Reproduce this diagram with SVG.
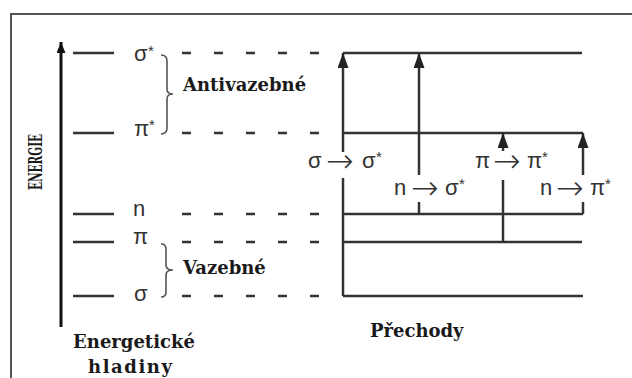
<svg xmlns="http://www.w3.org/2000/svg" width="632" height="378" viewBox="0 0 632 378">
<defs>
<style>
.frame{fill:none;stroke:#555;stroke-width:2}
.lvl{stroke:#333;stroke-width:2.5;fill:none}
.dash{stroke:#333;stroke-width:2.5;stroke-dasharray:9 23;fill:none}
.tr{stroke:#333;stroke-width:2.5;fill:none}
.brace{stroke:#555;stroke-width:1.6;fill:none}
.gk{font-family:"Liberation Sans","Arial",sans-serif;font-size:22px;fill:#333}
.st{font-size:15px}
.ar{font-family:"DejaVu Sans",sans-serif;font-weight:200;font-size:33px}
.lab{font-family:"DejaVu Serif","Liberation Serif",serif;font-weight:bold;font-size:18px;fill:#1a1a1a}
</style>
<marker id="ah" viewBox="0 0 15 11" refX="15" refY="5.5" markerWidth="15" markerHeight="11" markerUnits="userSpaceOnUse" orient="auto">
<path d="M0,0 L15,5.5 L0,11 z" fill="#222"/>
</marker>
<marker id="ahs" viewBox="0 0 11 9" refX="11" refY="4.5" markerWidth="11" markerHeight="9" markerUnits="userSpaceOnUse" orient="auto">
<path d="M0,0 L11,4.5 L0,9 z" fill="#111"/>
</marker>
</defs>
<rect width="632" height="378" fill="#fff"/>
<path class="frame" d="M11,378 L11,14 L632,14"/>

<g id="axis">
<line x1="61" y1="327" x2="61" y2="42" stroke="#111" stroke-width="3" marker-end="url(#ahs)"/>
<text class="lab" transform="translate(42,162) rotate(-90)" text-anchor="middle" font-size="19" textLength="56" lengthAdjust="spacingAndGlyphs">ENERGIE</text>
</g>

<g id="level-sigma-star">
<line class="lvl" x1="73" y1="53" x2="114" y2="53"/>
<text class="gk"><tspan x="134" y="61">σ</tspan><tspan class="st" x="148" y="56">*</tspan></text>
<line class="dash" x1="182" y1="53" x2="322" y2="53"/>
</g>
<g id="level-pi-star">
<line class="lvl" x1="73" y1="133" x2="114" y2="133"/>
<text class="gk"><tspan x="134" y="136">π</tspan><tspan class="st" x="149" y="130">*</tspan></text>
<line class="dash" x1="182" y1="133" x2="322" y2="133"/>
</g>
<g id="level-n">
<line class="lvl" x1="73" y1="214" x2="114" y2="214"/>
<text class="gk" x="133" y="216">n</text>
<line class="dash" x1="182" y1="214" x2="322" y2="214"/>
</g>
<g id="level-pi">
<line class="lvl" x1="73" y1="242" x2="114" y2="242"/>
<text class="gk" x="133" y="244">π</text>
<line class="dash" x1="182" y1="242" x2="322" y2="242"/>
</g>
<g id="level-sigma">
<line class="lvl" x1="73" y1="296" x2="114" y2="296"/>
<text class="gk" x="134" y="301">σ</text>
<line class="dash" x1="182" y1="296" x2="322" y2="296"/>
</g>

<g id="antibonding">
<path class="brace" d="M161,55 Q167,55 167,61 L167,89 Q167,94 173,94 Q167,94 167,99 L167,128 Q167,134 161,134"/>
<text class="lab" x="183" y="91">Antivazebné</text>
</g>
<g id="bonding">
<path class="brace" d="M161,244 Q166,244 166,249 L166,265 Q166,270 173,270 Q166,270 166,275 L166,292 Q166,297 161,297"/>
<text class="lab" x="183" y="274">Vazebné</text>
</g>

<g id="energy-label">
<text class="lab" x="134" y="348" text-anchor="middle">Energetické</text>
<text class="lab" x="130" y="373" text-anchor="middle" textLength="84">hladiny</text>
</g>

<g id="states">
<line class="tr" x1="343" y1="53" x2="582" y2="53"/>
<line class="tr" x1="343" y1="133" x2="583" y2="133"/>
<line class="tr" x1="343" y1="214" x2="583" y2="214"/>
<line class="tr" x1="343" y1="242" x2="582" y2="242"/>
<line class="tr" x1="343" y1="296" x2="583" y2="296"/>
</g>

<g id="connectors">
<line class="tr" x1="343" y1="152" x2="343" y2="53" marker-end="url(#ah)"/>
<line class="tr" x1="343" y1="178" x2="343" y2="296"/>
<line class="tr" x1="419" y1="175" x2="419" y2="53" marker-end="url(#ah)"/>
<line class="tr" x1="419" y1="202" x2="419" y2="214"/>
<line class="tr" x1="503" y1="151" x2="503" y2="133" marker-end="url(#ah)"/>
<line class="tr" x1="503" y1="180" x2="503" y2="242"/>
<line class="tr" x1="583" y1="175" x2="583" y2="133" marker-end="url(#ah)"/>
<line class="tr" x1="583" y1="202" x2="583" y2="214"/>
</g>

<g id="transition-labels">
<text class="gk"><tspan x="308" y="168">σ</tspan><tspan class="ar" x="326" y="172">→</tspan><tspan x="362" y="168">σ</tspan><tspan class="st" x="376" y="162">*</tspan></text>
<text class="gk"><tspan x="394" y="195">n</tspan><tspan class="ar" x="411" y="199">→</tspan><tspan x="445" y="195">σ</tspan><tspan class="st" x="459" y="189">*</tspan></text>
<text class="gk"><tspan x="475" y="168">π</tspan><tspan class="ar" x="493" y="172">→</tspan><tspan x="527" y="168">π</tspan><tspan class="st" x="542" y="162">*</tspan></text>
<text class="gk"><tspan x="540" y="195">n</tspan><tspan class="ar" x="556" y="199">→</tspan><tspan x="590" y="195">π</tspan><tspan class="st" x="605" y="189">*</tspan></text>
<text class="lab" x="370" y="337">Přechody</text>
</g>
</svg>
